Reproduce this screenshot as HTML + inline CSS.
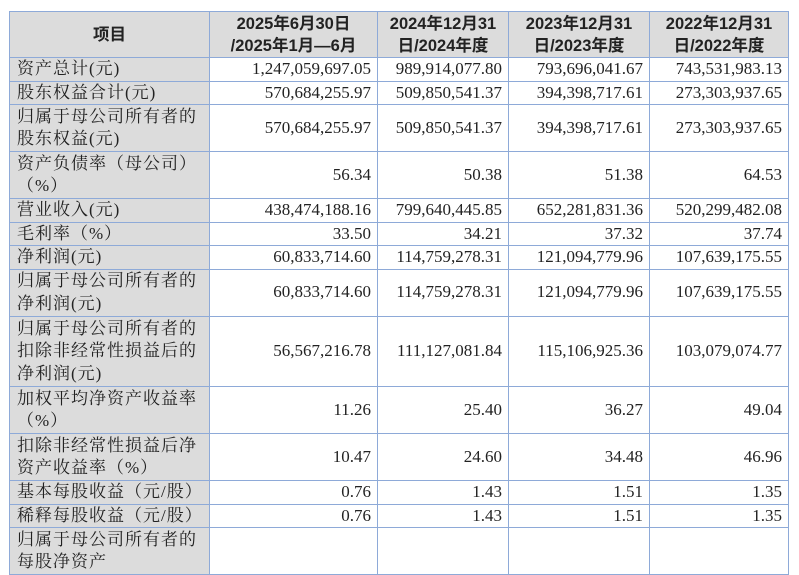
<!DOCTYPE html>
<html><head><meta charset="utf-8"><style>
html,body{margin:0;padding:0;background:#fff;width:799px;height:533px;overflow:hidden}
table{position:absolute;left:9px;top:11px;border-collapse:collapse;table-layout:fixed;font-family:"Liberation Serif","Noto Serif CJK SC",serif;font-size:17px;color:#222}
td{border:1.5px solid #8eaad8;padding:0 6px;line-height:22.5px;text-align:right;vertical-align:middle;white-space:nowrap;overflow:hidden;box-sizing:border-box}
td.l{text-align:left;background:#dcdcdc;white-space:normal;padding:0 4px 0 7px;letter-spacing:1px}
tr.h td{background:#dcdcdc;text-align:center;font-family:"Liberation Sans","Noto Sans CJK SC",sans-serif;font-weight:bold;font-size:16.5px;line-height:22px;height:46px}
tr.s td{height:23.5px}tr.d td{height:47px}tr.t td{height:70.5px}
</style></head><body>
<table>
<colgroup><col style="width:200px"><col style="width:168px"><col style="width:131px"><col style="width:141px"><col style="width:139px"></colgroup>
<tr class="h"><td>项目</td><td>2025年6月30日<br>/2025年1月—6月</td><td>2024年12月31<br>日/2024年度</td><td>2023年12月31<br>日/2023年度</td><td>2022年12月31<br>日/2022年度</td></tr>
<tr class="s"><td class="l">资产总计(元)</td><td>1,247,059,697.05</td><td>989,914,077.80</td><td>793,696,041.67</td><td>743,531,983.13</td></tr>
<tr class="s"><td class="l">股东权益合计(元)</td><td>570,684,255.97</td><td>509,850,541.37</td><td>394,398,717.61</td><td>273,303,937.65</td></tr>
<tr class="d"><td class="l">归属于母公司所有者的股东权益(元)</td><td>570,684,255.97</td><td>509,850,541.37</td><td>394,398,717.61</td><td>273,303,937.65</td></tr>
<tr class="d"><td class="l">资产负债率（母公司）（%）</td><td>56.34</td><td>50.38</td><td>51.38</td><td>64.53</td></tr>
<tr class="s"><td class="l">营业收入(元)</td><td>438,474,188.16</td><td>799,640,445.85</td><td>652,281,831.36</td><td>520,299,482.08</td></tr>
<tr class="s"><td class="l">毛利率（%）</td><td>33.50</td><td>34.21</td><td>37.32</td><td>37.74</td></tr>
<tr class="s"><td class="l">净利润(元)</td><td>60,833,714.60</td><td>114,759,278.31</td><td>121,094,779.96</td><td>107,639,175.55</td></tr>
<tr class="d"><td class="l">归属于母公司所有者的净利润(元)</td><td>60,833,714.60</td><td>114,759,278.31</td><td>121,094,779.96</td><td>107,639,175.55</td></tr>
<tr class="t"><td class="l">归属于母公司所有者的扣除非经常性损益后的净利润(元)</td><td>56,567,216.78</td><td>111,127,081.84</td><td>115,106,925.36</td><td>103,079,074.77</td></tr>
<tr class="d"><td class="l">加权平均净资产收益率（%）</td><td>11.26</td><td>25.40</td><td>36.27</td><td>49.04</td></tr>
<tr class="d"><td class="l">扣除非经常性损益后净资产收益率（%）</td><td>10.47</td><td>24.60</td><td>34.48</td><td>46.96</td></tr>
<tr class="s"><td class="l">基本每股收益（元/股）</td><td>0.76</td><td>1.43</td><td>1.51</td><td>1.35</td></tr>
<tr class="s"><td class="l">稀释每股收益（元/股）</td><td>0.76</td><td>1.43</td><td>1.51</td><td>1.35</td></tr>
<tr class="d"><td class="l">归属于母公司所有者的每股净资产</td><td></td><td></td><td></td><td></td></tr>
</table>
</body></html>
